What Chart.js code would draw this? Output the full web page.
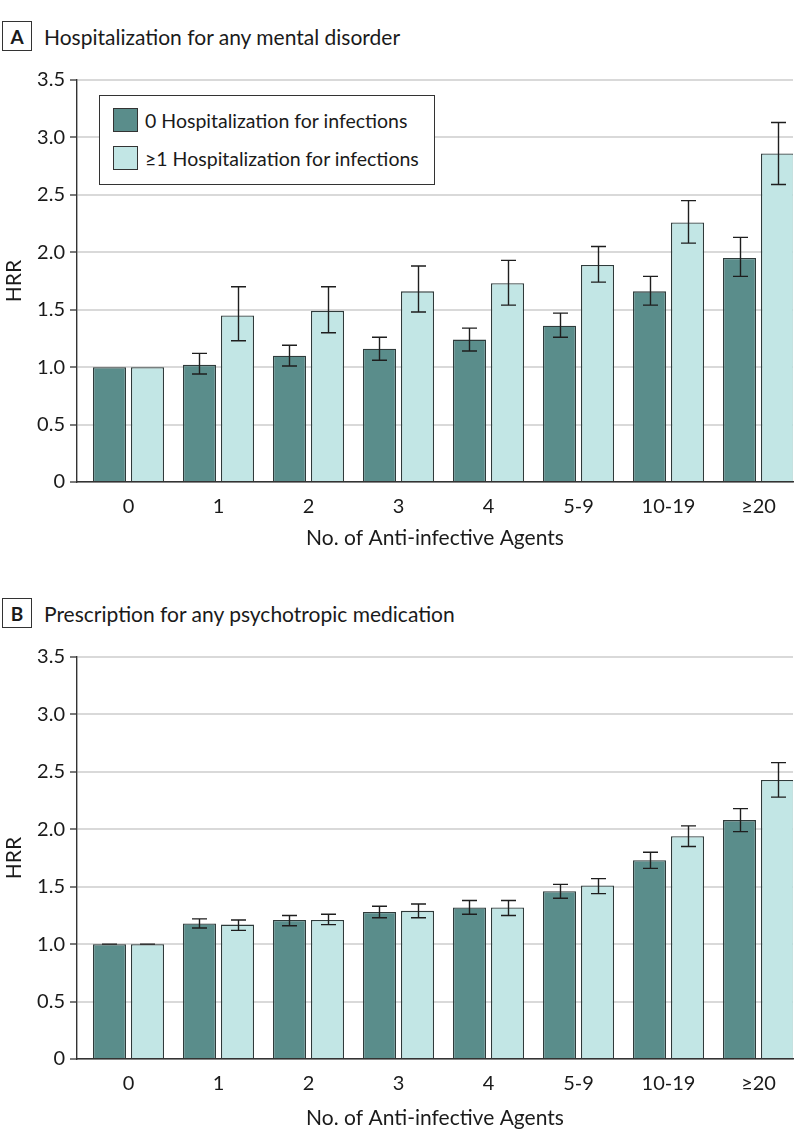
<!DOCTYPE html>
<html>
<head>
<meta charset="utf-8">
<script src="https://cdn.jsdelivr.net/npm/chart.js@4.4.1/dist/chart.umd.min.js"></script>
<style>
  body { margin: 0; width: 794px; height: 1144px; overflow: hidden; background: #fff; font-family: Lato, sans-serif; color: #1a1a1a; }
  .panel-title { position: absolute; left: 2px; font-size: 21px; display: flex; align-items: center; }
  .panel-title .tag { width: 30px; height: 30px; border: 1.5px solid #333; box-sizing: border-box; display: flex; align-items: center; justify-content: center; font-weight: bold; font-size: 19px; margin-right: 12px; }
  .chart-box { position: absolute; left: 0; width: 794px; }
  .legend { position: absolute; left: 99px; top: 95px; width: 336px; height: 90px; border: 1.5px solid #333; box-sizing: border-box; background: #fff; font-size: 19.5px; }
  .legend .item { position: absolute; left: 13px; display: flex; align-items: center; }
  .legend .sw { width: 25px; height: 24px; border: 1.2px solid #333; box-sizing: border-box; margin-right: 7px; }
</style>
</head>
<body>
<div class="panel-title" style="top:21px"><div class="tag">A</div>Hospitalization for any mental disorder</div>
<div class="chart-box" style="top:60px;height:500px"><canvas id="chartA"></canvas></div>
<div class="legend" id="legendA"></div>

<div class="panel-title" style="top:598px"><div class="tag">B</div>Prescription for any psychotropic medication</div>
<div class="chart-box" style="top:637px;height:503px"><canvas id="chartB"></canvas></div>

<script>
const categories = ['0', '1', '2', '3', '4', '5-9', '10-19', '≥20'];
const seriesNames = ['0 Hospitalization for infections', '≥1 Hospitalization for infections'];
const yTicks = [0, 0.5, 1.0, 1.5, 2.0, 2.5, 3.0, 3.5];

// Panel A: hospitalization for any mental disorder
const mentalNoInf = [1.00, 1.02, 1.10, 1.16, 1.24, 1.36, 1.66, 1.95];
const mentalNoInfLo = [null, 0.94, 1.01, 1.06, 1.14, 1.26, 1.54, 1.79];
const mentalNoInfHi = [null, 1.12, 1.19, 1.26, 1.34, 1.47, 1.79, 2.13];
const mentalInf = [1.00, 1.45, 1.49, 1.66, 1.73, 1.89, 2.26, 2.86];
const mentalInfLo = [null, 1.23, 1.30, 1.48, 1.54, 1.74, 2.08, 2.59];
const mentalInfHi = [null, 1.70, 1.70, 1.88, 1.93, 2.05, 2.45, 3.13];

// Panel B: prescription for any psychotropic medication
const psychNoInf = [1.00, 1.18, 1.21, 1.28, 1.32, 1.46, 1.73, 2.08];
const psychNoInfLo = [1.00, 1.14, 1.16, 1.23, 1.26, 1.40, 1.66, 1.98];
const psychNoInfHi = [1.00, 1.22, 1.25, 1.33, 1.38, 1.52, 1.80, 2.18];
const psychInf = [1.00, 1.17, 1.21, 1.29, 1.32, 1.51, 1.94, 2.43];
const psychInfLo = [1.00, 1.12, 1.17, 1.23, 1.25, 1.44, 1.85, 2.28];
const psychInfHi = [1.00, 1.21, 1.26, 1.35, 1.38, 1.57, 2.03, 2.58];

const darkFill = '#5a8d8b';
const lightFill = '#c2e6e5';
const edge = '#2f3b3b';
const FONT = 'Lato, sans-serif';

// draws the 95% CI whiskers using the chart's own y scale
const errorBars = {
  id: 'errorBars',
  afterDatasetsDraw(chart) {
    const ctx = chart.ctx;
    const y = chart.scales.y;
    ctx.save();
    ctx.strokeStyle = '#1e1e1e';
    ctx.lineWidth = 1.4;
    chart.data.datasets.forEach((ds, i) => {
      const meta = chart.getDatasetMeta(i);
      meta.data.forEach((bar, j) => {
        const lo = ds.errLo[j], hi = ds.errHi[j];
        if (lo == null) return;
        const x = Math.round(bar.x) + 0.5;
        const yl = y.getPixelForValue(lo), yh = y.getPixelForValue(hi);
        const c = 7.5;
        ctx.beginPath();
        ctx.moveTo(x, yl); ctx.lineTo(x, yh);
        ctx.moveTo(x - c, yl); ctx.lineTo(x + c, yl);
        ctx.moveTo(x - c, yh); ctx.lineTo(x + c, yh);
        ctx.stroke();
      });
    });
    ctx.restore();
  }
};

function makeChart(id, d0, lo0, hi0, d1, lo1, hi1, xHeight) {
  return new Chart(document.getElementById(id), {
    type: 'bar',
    data: {
      datasets: [
        { label: seriesNames[0], data: d0.map((v, i) => ({ x: i, y: v })), errLo: lo0, errHi: hi0,
          backgroundColor: darkFill, borderColor: edge, borderWidth: 1.3 },
        { label: seriesNames[1], data: d1.map((v, i) => ({ x: i, y: v })), errLo: lo1, errHi: hi1,
          backgroundColor: lightFill, borderColor: edge, borderWidth: 1.3 }
      ]
    },
    options: {
      responsive: true,
      maintainAspectRatio: false,
      animation: false,
      categoryPercentage: 0.845,
      barPercentage: 0.87,
      layout: { padding: { top: 20, right: 1, left: 0, bottom: 0 } },
      plugins: { legend: { display: false }, tooltip: { enabled: false } },
      scales: {
        x: {
          type: 'linear',
          offset: false,
          bounds: 'data',
          min: -0.572,
          max: 7.383,
          afterBuildTicks: s => { s.ticks = categories.map((_, i) => ({ value: i })); },
          afterFit: s => { s.height = xHeight; s.paddingLeft = 0; s.paddingRight = 0; },
          grid: { display: false, offset: false },
          border: { display: true, color: '#333', width: 1.4 },
          ticks: { callback: v => categories[v], color: '#1a1a1a', font: { family: FONT, size: 20 }, padding: 5, maxRotation: 0, autoSkip: false },
          title: { display: true, text: 'No. of Anti-infective Agents', color: '#1a1a1a', font: { family: FONT, size: 21 }, padding: { top: 0, bottom: 9 } }
        },
        y: {
          min: 0,
          max: 3.5,
          afterBuildTicks: s => { s.ticks = yTicks.map(v => ({ value: v })); },
          afterFit: s => { s.width = 77; },
          grid: { color: '#d9d9d9', lineWidth: 2, tickColor: '#333', tickWidth: 1.3, tickLength: 7 },
          border: { display: true, color: '#333', width: 1.4 },
          ticks: { callback: v => (v === 0 ? '0' : v.toFixed(1)), color: '#1a1a1a', font: { family: FONT, size: 20 }, padding: 5 },
          title: { display: true, text: 'HRR', color: '#1a1a1a', font: { family: FONT, size: 21 }, padding: { top: 2, bottom: 0 } }
        }
      }
    },
    plugins: [errorBars]
  });
}

const chartA = makeChart('chartA', mentalNoInf, mentalNoInfLo, mentalNoInfHi, mentalInf, mentalInfLo, mentalInfHi, 78);
makeChart('chartB', psychNoInf, psychNoInfLo, psychNoInfHi, psychInf, psychInfLo, psychInfHi, 81);

// legend built from the first chart's datasets
const legendEl = document.getElementById('legendA');
chartA.data.datasets.forEach((ds, i) => {
  const item = document.createElement('div');
  item.className = 'item';
  item.style.top = (12 + i * 38) + 'px';
  item.innerHTML = '<div class="sw" style="background:' + ds.backgroundColor + '"></div><span>' + ds.label + '</span>';
  legendEl.appendChild(item);
});
</script>
</body>
</html>
